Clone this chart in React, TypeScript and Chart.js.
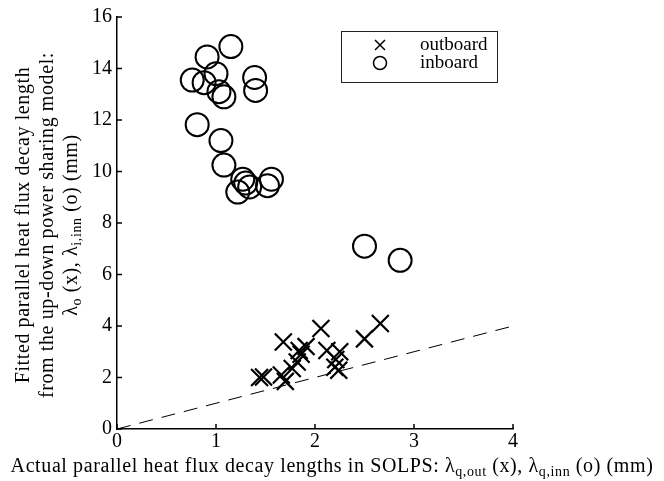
import React, { useEffect, useRef } from 'react';
import { Chart, registerables } from 'chart.js';

Chart.register(...registerables);

// ---- data ----
const outboardX = [1.44, 1.48, 1.68, 1.70, 1.66, 1.77, 1.82, 1.86, 1.91, 1.84, 2.06, 2.12, 2.25, 2.21, 2.20, 2.24, 2.50, 2.66];
const outboardY = [2.00, 2.02, 3.38, 1.85, 2.10, 2.35, 2.60, 2.90, 3.20, 3.05, 3.90, 3.05, 3.00, 2.70, 2.40, 2.28, 3.50, 4.10];
const inboardX = [1.15, 0.91, 1.00, 0.76, 0.88, 1.39, 1.03, 1.08, 1.40, 0.81, 1.05, 1.08, 1.27, 1.34, 1.22, 1.56, 1.52, 1.30, 2.50, 2.86];
const inboardY = [14.85, 14.45, 13.80, 13.55, 13.45, 13.65, 13.10, 12.90, 13.15, 11.82, 11.20, 10.25, 9.70, 9.40, 9.20, 9.70, 9.45, 9.55, 7.10, 6.55];
const refLineX = [0, 4];
const refLineY = [0, 4];
const xTickValues = [0, 1, 2, 3, 4];
const yTickValues = [0, 2, 4, 6, 8, 10, 12, 14, 16];
const seriesNames = ['outboard', 'inboard'];

const FONT_FAMILY = '"Liberation Serif", "DejaVu Serif", serif';

type Seg = { t: string; sub?: boolean };

const xTitle: Seg[] = [
  { t: 'Actual parallel heat flux decay lengths in SOLPS: \u03bb' },
  { t: 'q,out', sub: true },
  { t: ' (x), \u03bb' },
  { t: 'q,inn', sub: true },
  { t: ' (o) (mm)' },
];
const yTitle1: Seg[] = [{ t: 'Fitted parallel heat flux decay length' }];
const yTitle2: Seg[] = [{ t: 'from the up-down power sharing model:' }];
const yTitle3: Seg[] = [
  { t: '\u03bb' },
  { t: 'o', sub: true },
  { t: ' (x), \u03bb' },
  { t: 'i,inn', sub: true },
  { t: ' (o) (mm)' },
];

const TITLE_SIZE = 20;
const LETTER_SPACING = 0.6;

function setFont(ctx: CanvasRenderingContext2D, size: number) {
  ctx.font = `${size}px ${FONT_FAMILY}`;
  (ctx as any).letterSpacing = `${LETTER_SPACING}px`;
}

function segWidth(ctx: CanvasRenderingContext2D, segs: Seg[], size: number) {
  let w = 0;
  for (const s of segs) {
    setFont(ctx, s.sub ? Math.round(size * 0.7) : size);
    w += ctx.measureText(s.t).width;
  }
  return w;
}

function drawSegs(ctx: CanvasRenderingContext2D, segs: Seg[], cx: number, baseline: number, size: number) {
  const total = segWidth(ctx, segs, size);
  let x = cx - total / 2;
  ctx.textAlign = 'left';
  ctx.textBaseline = 'alphabetic';
  for (const s of segs) {
    const fs = s.sub ? Math.round(size * 0.7) : size;
    setFont(ctx, fs);
    ctx.fillText(s.t, x, s.sub ? baseline + size * 0.22 : baseline);
    x += ctx.measureText(s.t).width;
  }
  (ctx as any).letterSpacing = '0px';
}

const decorPlugin = {
  id: 'decor',
  afterDraw(chart: any) {
    const { ctx, chartArea, scales } = chart;
    const xs = scales.x;
    const ys = scales.y;
    ctx.save();
    ctx.strokeStyle = '#000';
    ctx.fillStyle = '#000';
    ctx.lineWidth = 1.5;
    // inward ticks
    for (const v of xTickValues) {
      const px = xs.getPixelForValue(v);
      ctx.beginPath();
      ctx.moveTo(px, chartArea.bottom);
      ctx.lineTo(px, chartArea.bottom - 5);
      ctx.stroke();
    }
    for (const v of yTickValues) {
      const py = ys.getPixelForValue(v);
      ctx.beginPath();
      ctx.moveTo(chartArea.left, py);
      ctx.lineTo(chartArea.left + 5, py);
      ctx.stroke();
    }
    // x title
    drawSegs(ctx, xTitle, chart.width / 2, 472, TITLE_SIZE);
    // y title
    const cy = (chartArea.top + chartArea.bottom) / 2 + 2;
    const lines = [yTitle1, yTitle2, yTitle3];
    const xsPos = [29, 53, 77];
    lines.forEach((segs, i) => {
      ctx.save();
      ctx.translate(xsPos[i], cy);
      ctx.rotate(-Math.PI / 2);
      drawSegs(ctx, segs, 0, 0, TITLE_SIZE);
      ctx.restore();
    });
    // legend
    const lx = 341, ly = 31, lw = 156, lh = 51;
    ctx.lineWidth = 1;
    ctx.strokeStyle = '#222';
    ctx.fillStyle = '#fff';
    ctx.fillRect(lx, ly, lw, lh);
    ctx.strokeRect(lx + 0.5, ly + 0.5, lw, lh);
    const ds = chart.data.datasets;
    const rows = [ds[0], ds[1]];
    rows.forEach((d: any, i: number) => {
      const my = ly + 14 + i * 18;
      const mx = lx + 39;
      ctx.strokeStyle = '#000';
      ctx.lineWidth = 1.5;
      if (d.pointStyle === 'crossRot') {
        const r = 5;
        ctx.beginPath();
        ctx.moveTo(mx - r, my - r);
        ctx.lineTo(mx + r, my + r);
        ctx.moveTo(mx + r, my - r);
        ctx.lineTo(mx - r, my + r);
        ctx.stroke();
      } else {
        ctx.beginPath();
        ctx.arc(mx, my, 6.5, 0, Math.PI * 2);
        ctx.stroke();
      }
      ctx.fillStyle = '#000';
      ctx.font = `19px ${FONT_FAMILY}`;
      ctx.textAlign = 'left';
      ctx.textBaseline = 'middle';
      ctx.fillText(d.label, lx + 79, my);
    });
    ctx.restore();
  },
};

export default function App() {
  const ref = useRef<HTMLCanvasElement | null>(null);
  useEffect(() => {
    if (!ref.current) return;
    const chart = new Chart(ref.current, {
      type: 'scatter',
      data: {
        datasets: [
          {
            label: seriesNames[0],
            data: outboardX.map((x, i) => ({ x, y: outboardY[i] })),
            pointStyle: 'crossRot',
            pointRadius: 12,
            borderColor: '#000',
            backgroundColor: '#000',
            borderWidth: 2.2,
          } as any,
          {
            label: seriesNames[1],
            data: inboardX.map((x, i) => ({ x, y: inboardY[i] })),
            pointStyle: 'circle',
            pointRadius: 11.5,
            borderColor: '#000',
            backgroundColor: 'rgba(0,0,0,0)',
            borderWidth: 2,
          } as any,
          {
            type: 'line',
            label: 'ref',
            data: refLineX.map((x, i) => ({ x, y: refLineY[i] })),
            borderColor: '#000',
            borderWidth: 1,
            borderDash: [14, 9],
            pointRadius: 0,
            fill: false,
          } as any,
        ],
      },
      options: {
        animation: false,
        responsive: false,
        events: [],
        layout: { padding: { top: 13, right: 151, left: 0, bottom: 0 } },
        plugins: { legend: { display: false }, tooltip: { enabled: false } },
        scales: {
          x: {
            type: 'linear',
            min: 0,
            max: 4,
            afterFit: (s: any) => { s.height = 52; },
            afterBuildTicks: (s: any) => { s.ticks = xTickValues.map((v) => ({ value: v })); },
            grid: { display: false, drawTicks: false },
            border: { display: true, color: '#000', width: 1.5 },
            ticks: { color: '#000', padding: 1, font: { family: FONT_FAMILY, size: 20 }, maxRotation: 0, autoSkip: false },
          },
          y: {
            type: 'linear',
            min: 0,
            max: 16,
            afterFit: (s: any) => { s.width = 117; },
            afterBuildTicks: (s: any) => { s.ticks = yTickValues.map((v) => ({ value: v })); },
            grid: { display: false, drawTicks: false },
            border: { display: true, color: '#000', width: 1.5 },
            ticks: { color: '#000', padding: 5, font: { family: FONT_FAMILY, size: 20 }, autoSkip: false },
          },
        },
      },
      plugins: [decorPlugin],
    });
    return () => chart.destroy();
  }, []);
  return (
    <div style={{ position: 'fixed', left: 0, top: 0, width: 664, height: 481, background: '#fff' }}>
      <canvas ref={ref} width={664} height={481} style={{ width: 664, height: 481 }} />
    </div>
  );
}
